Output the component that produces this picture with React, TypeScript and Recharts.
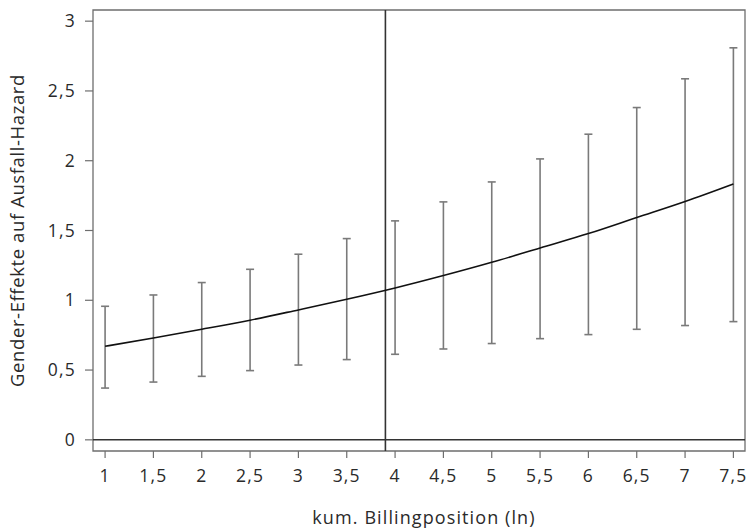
import React from 'react'
import {
  ComposedChart,
  Line,
  Scatter,
  ErrorBar,
  XAxis,
  YAxis,
  ReferenceLine,
  ReferenceArea,
} from 'recharts'

// values
const positions = [1, 1.5, 2, 2.5, 3, 3.5, 4, 4.5, 5, 5.5, 6, 6.5, 7, 7.5]
const effect = [0.67, 0.73, 0.792, 0.857, 0.931, 1.007, 1.088, 1.177, 1.272, 1.375, 1.478, 1.593, 1.708, 1.834]
const lower = [0.371, 0.414, 0.455, 0.496, 0.536, 0.575, 0.613, 0.651, 0.69, 0.725, 0.754, 0.792, 0.819, 0.847]
const upper = [0.957, 1.038, 1.127, 1.222, 1.33, 1.442, 1.569, 1.705, 1.848, 2.013, 2.19, 2.381, 2.587, 2.809]

const xTicks = [1, 1.5, 2, 2.5, 3, 3.5, 4, 4.5, 5, 5.5, 6, 6.5, 7, 7.5]
const yTicks = [0, 0.5, 1, 1.5, 2, 2.5, 3]
const cutoff = 3.9

const X_DOMAIN: [number, number] = [0.875, 7.62]
const Y_DOMAIN: [number, number] = [-0.08, 3.08]

const FONT = '"Open Sans", sans-serif'
const TEXT = '#2a2a2a'
const GREY = '#6e6e6e'

const data = positions.map((x, i) => ({
  x,
  est: effect[i],
  err: [effect[i] - lower[i], upper[i] - effect[i]],
}))

const fmt = (v: number) => String(v).replace('.', ',')

const tickStyle = { fill: TEXT, fontSize: 17.5, fontFamily: FONT, letterSpacing: 1.2 }

export default function App() {
  return (
    <div style={{ position: 'absolute', left: 0, top: 0, background: '#fff' }}>
      <ComposedChart
        width={747}
        height={529}
        data={data}
        margin={{ top: 10, right: 2, bottom: 0, left: 0 }}
      >
        <XAxis
          dataKey="x"
          type="number"
          domain={X_DOMAIN}
          ticks={xTicks}
          allowDataOverflow
          tickFormatter={fmt}
          axisLine={false}
          tickLine={{ stroke: GREY, strokeWidth: 1.2 }}
          tickSize={7}
          tickMargin={12}
          height={78}
          tick={tickStyle}
          label={{
            value: 'kum. Billingposition (ln)',
            position: 'insideBottom',
            offset: 5,
            dx: 5,
            fill: TEXT,
            fontSize: 18,
            fontFamily: FONT,
            letterSpacing: 1.1,
          }}
        />
        <YAxis
          type="number"
          domain={Y_DOMAIN}
          ticks={yTicks}
          allowDataOverflow
          tickFormatter={fmt}
          axisLine={false}
          tickLine={{ stroke: GREY, strokeWidth: 1.2 }}
          tickSize={8}
          tickMargin={9}
          width={93}
          tick={tickStyle}
          label={{
            value: 'Gender-Effekte auf Ausfall-Hazard',
            angle: -90,
            position: 'insideLeft',
            offset: 17,
            fill: TEXT,
            fontSize: 18.5,
            fontFamily: FONT,
            letterSpacing: 0.6,
            style: { textAnchor: 'middle' },
          }}
        />
        <ReferenceArea
          x1={X_DOMAIN[0]}
          x2={X_DOMAIN[1]}
          y1={Y_DOMAIN[0]}
          y2={Y_DOMAIN[1]}
          fill="none"
          stroke={GREY}
          strokeWidth={1.3}
          ifOverflow="visible"
        />
        <ReferenceLine y={0} stroke="#333" strokeWidth={1.5} />
        <ReferenceLine x={cutoff} stroke="#333" strokeWidth={1.6} />
        <Scatter dataKey="est" shape={() => <g />} isAnimationActive={false}>
          <ErrorBar dataKey="err" direction="y" width={4} stroke="#7a7a7a" strokeWidth={1.6} />
        </Scatter>
        <Line
          dataKey="est"
          type="monotone"
          stroke="#111"
          strokeWidth={1.6}
          dot={false}
          activeDot={false}
          isAnimationActive={false}
        />
      </ComposedChart>
    </div>
  )
}
